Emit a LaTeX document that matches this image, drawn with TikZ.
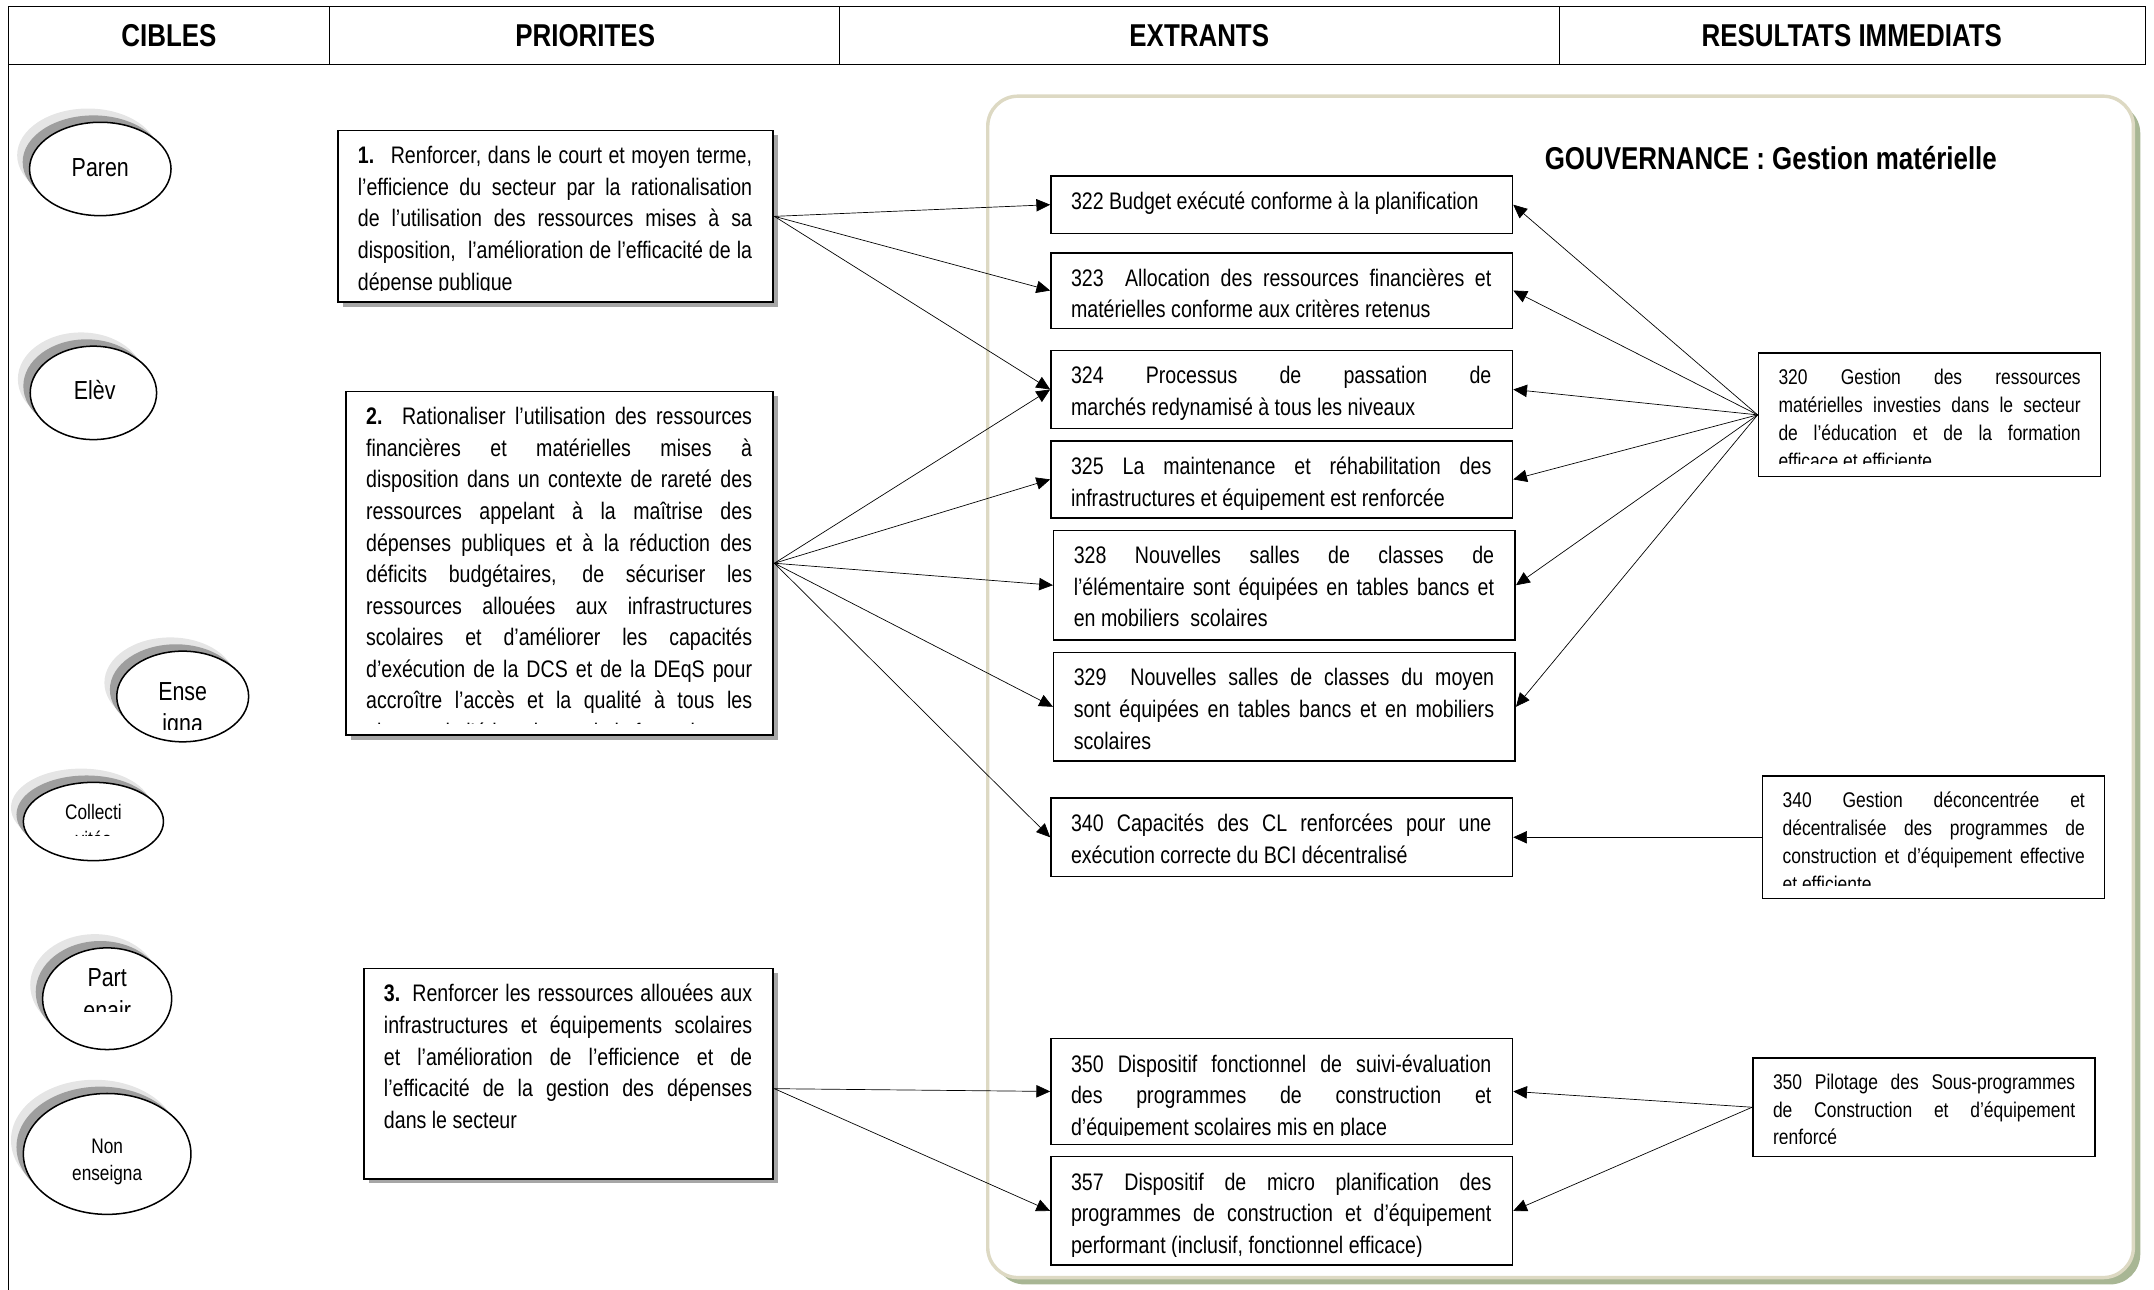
\documentclass[tikz,border=0pt]{standalone}
\usepackage{fontspec}
\setmainfont{Liberation Sans}[FakeStretch=0.82]
\usetikzlibrary{arrows.meta,shapes.geometric,shadows,fit}

\definecolor{vertombre}{RGB}{168,182,148}
\definecolor{beigebord}{RGB}{221,217,195}

\hyphenpenalty=10000
\exhyphenpenalty=10000
\tolerance=10000
\hbadness=10000

\def \marge {9pt}
\newcommand{\corps}{\fontsize{17.4}{23}\selectfont}
\newcommand{\menu}{\fontsize{15.5}{20.3}\selectfont}

\tikzstyle{entete}=[font=\fontsize{23}{26}\selectfont\bfseries]
\tikzstyle{prio}=[draw, line width=1.4pt, fill=white, inner sep=0pt, general shadow={fill=black!35, shadow xshift=3.5pt, shadow yshift=-3.5pt}]
\tikzstyle{extrant}=[draw, line width=1.1pt, fill=white, inner sep=0pt]
\tikzstyle{texte}=[anchor=north west, inner sep=0pt, align=justify, font=\corps]
\tikzstyle{cible}=[ellipse, draw, line width=1.1pt, fill=white, general shadow={fill=black!10, shadow xshift=-9pt, shadow yshift=10pt}, general shadow={fill=black!38, shadow xshift=-5pt, shadow yshift=5pt}]
\tikzstyle{nomcible}=[align=center, font=\fontsize{19}{24}\selectfont]
\tikzstyle{nompetit}=[align=center, font=\fontsize{15.3}{20}\selectfont]
\tikzstyle{fleche}=[-{Triangle[length=10pt,width=9pt]}, line width=0.5pt]

% box with its text cut at the bottom, as in the text frames
\newcommand{\boite}[6]{%
  \node[#4, fit={#2 #3}] (#1) {};
  \begin{scope}
    \clip ([yshift=\marge]#1.south west) rectangle (#1.north east);
    \node[texte, #5] (#1t) at ([xshift=15pt,yshift=-12pt]#1.north west) {#6};
  \end{scope}}

\begin{document}
\begin{tikzpicture}[x=1pt, y=-1pt]
\useasboundingbox (0,0) rectangle (1568,939);

% table head
\draw[line width=0.8pt] (6,5) rectangle (1562,47);
\foreach \x in {240, 611, 1135}
    \draw[line width=0.8pt] (\x,5) -- (\x,47);
\draw[line width=0.8pt] (6,47) -- (6,939);
\node[entete] (hCibles) at (123,26) {CIBLES};
\node[entete] (hPrio) at (426,26) {PRIORITES};
\node[entete] (hExtr) at (873,26) {EXTRANTS};
\node[entete] (hResu) at (1348,26) {RESULTATS IMMEDIATS};

% gouvernance frame
\fill[vertombre, rounded corners=22] (724,75) rectangle (1558,935);
\draw[beigebord, fill=white, line width=2.5pt, rounded corners=22] (719,70) rectangle (1553,930);
\node[entete, anchor=west] (gouv) at (1121,115) {GOUVERNANCE : Gestion matérielle};

% cibles
\foreach \n/\x/\y/\w/\h in {Paren/73/123/103/68, Elev/68/286/92/68, Ense/133/507/96/66,
                            Coll/68/598/102/57, Part/78/727/94/74, Nonens/78/840/122/88}
    \node[cible, minimum width=\w, minimum height=\h] (\n) at (\x,\y) {};

\node[nomcible] (ParenT) at (73,122) {Paren};
\node[nomcible] (ElevT) at (69,284) {Elèv};
\begin{scope}
    \clip (80,470) rectangle (190,531);
    \node[nomcible] (EnseT) at (133,517) {Ense\\igna};
\end{scope}
\begin{scope}
    \clip (15,570) rectangle (125,608);
    \node[nompetit] (CollT) at (68,601) {Collecti\\vités};
\end{scope}
\begin{scope}
    \clip (30,690) rectangle (130,736);
    \node[nomcible] (PartT) at (78,724) {Part\\enair};
\end{scope}
\node[nompetit] (NonensT) at (78,846) {Non\\enseigna};

% priorites
\boite{P1}{(246,95)}{(563,220)}{prio}{text width=287pt}{{\bfseries 1.}~ Renforcer, dans le court et moyen terme,\linebreak l’efficience du secteur par la rationalisation\linebreak de l’utilisation des ressources mises à sa\linebreak disposition,~ l’amélioration de l’efficacité de la\linebreak dépense publique}
\boite{P2}{(252,285)}{(563,535)}{prio}{text width=281pt}{{\bfseries 2.} Rationaliser l’utilisation des ressources\linebreak financières et matérielles mises à\linebreak disposition dans un contexte de rareté des\linebreak ressources appelant à la maîtrise des\linebreak dépenses publiques et à la réduction des\linebreak déficits budgétaires, de sécuriser les\linebreak ressources allouées aux infrastructures\linebreak scolaires et d’améliorer les capacités\linebreak d’exécution de la DCS et de la DEqS pour\linebreak accroître l’accès et la qualité à tous les\linebreak niveaux de l’éducation et de la formation}
\boite{P3}{(265,705)}{(563,858)}{prio}{text width=268pt}{{\bfseries 3.} Renforcer les ressources allouées aux\linebreak infrastructures et équipements scolaires\linebreak et l’amélioration de l’efficience et de\linebreak l’efficacité de la gestion des dépenses\linebreak dans le secteur}

% extrants
\def \marge {7pt}
\boite{E322}{(765,128)}{(1101,170)}{extrant}{text width=306pt}{322 Budget exécuté conforme à la planification}
\boite{E323}{(765,184)}{(1101,239)}{extrant}{text width=306pt}{323~ Allocation des ressources financières et\linebreak matérielles conforme aux critères retenus}
\boite{E324}{(765,255)}{(1101,312)}{extrant}{text width=306pt}{324 Processus de passation de\linebreak marchés redynamisé à tous les niveaux}
\boite{E325}{(765,321)}{(1101,377)}{extrant}{text width=306pt}{325 La maintenance et réhabilitation des\linebreak infrastructures et équipement est renforcée}
\boite{E328}{(767,386)}{(1103,466)}{extrant}{text width=306pt}{328 Nouvelles salles de classes de\linebreak l'élémentaire sont équipées en tables bancs et\linebreak en mobiliers~ scolaires}
\boite{E329}{(767,475)}{(1103,554)}{extrant}{text width=306pt}{329~ Nouvelles salles de classes du moyen\linebreak sont équipées en tables bancs et en mobiliers\linebreak scolaires}
\boite{E340}{(765,581)}{(1101,638)}{extrant}{text width=306pt}{340 Capacités des CL renforcées pour une\linebreak exécution correcte du BCI décentralisé}
\boite{E350}{(765,756)}{(1101,833)}{extrant}{text width=306pt}{350 Dispositif fonctionnel de suivi-évaluation\linebreak des programmes de construction et\linebreak d’équipement scolaires mis en place}
\boite{E357}{(765,842)}{(1101,921)}{extrant}{text width=306pt}{357 Dispositif de micro planification des\linebreak programmes de construction et d’équipement\linebreak performant (inclusif, fonctionnel efficace)}

% resultats immediats
\def \marge {10pt}
\boite{R320}{(1280,257)}{(1529,347)}{extrant}{text width=220pt, font=\menu}{320 Gestion des ressources\linebreak matérielles investies dans le secteur\linebreak de l’éducation et de la formation\linebreak efficace et efficiente}
\boite{R340}{(1283,565)}{(1532,654)}{extrant}{text width=220pt, font=\menu}{340 Gestion déconcentrée et\linebreak décentralisée des programmes de\linebreak construction et d’équipement effective\linebreak et efficiente}
\boite{R350}{(1276,770)}{(1525,842)}{extrant}{text width=220pt, font=\menu}{350 Pilotage des Sous-programmes\linebreak de Construction et d’équipement\linebreak renforcé}

% liens
\foreach \e in {E322, E323, E324}
    \draw[fleche] (P1.east) -- (\e.west);
\foreach \e in {E324, E325, E328, E329, E340}
    \draw[fleche] (P2.east) -- (\e.west);
\foreach \e in {E350, E357}
    \draw[fleche] ([yshift=-11pt]P3.east) -- (\e.west);
\foreach \e in {E322, E323, E324, E325, E328, E329}
    \draw[fleche] (R320.west) -- (\e.east);
\draw[fleche] (R340.west) -- (E340.east);
\foreach \e in {E350, E357}
    \draw[fleche] (R350.west) -- (\e.east);

\end{tikzpicture}
\end{document}
